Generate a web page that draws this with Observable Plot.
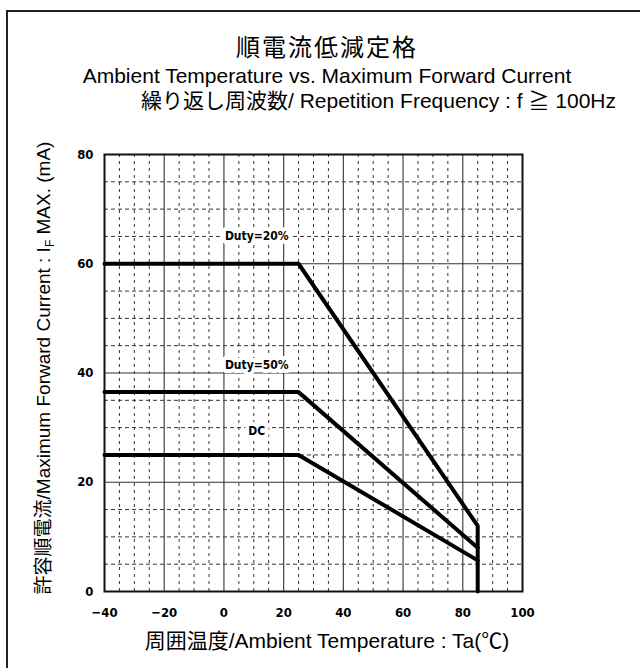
<!DOCTYPE html>
<html><head><meta charset="utf-8">
<script src="https://cdn.jsdelivr.net/npm/d3@7"></script>
<script src="https://cdn.jsdelivr.net/npm/@observablehq/plot@0.6"></script>
<style>
html,body{margin:0;padding:0;background:#fff;}
#wrap{position:relative;width:640px;height:668px;overflow:hidden;font-family:"Liberation Sans",Arial,"Noto Sans CJK JP",sans-serif;color:#000;}
.t{position:absolute;white-space:nowrap;line-height:1;}
#frame{position:absolute;left:6px;top:10px;width:700px;height:700px;border:2px solid #222;box-sizing:border-box;}
#chart{position:absolute;left:0;top:0;}
#chart svg text{font-stretch:condensed;}
</style></head><body>
<div id="wrap">
  <div id="frame"></div>
  <div id="chart"></div>
  <div class="t" id="title" style="left:327px;top:48px;transform:translate(-50%,-50%);font-size:24px;letter-spacing:2px;">順電流低減定格</div>
  <div class="t" id="sub1" style="left:327px;top:75px;transform:translate(-50%,-50%);font-size:21px;">Ambient Temperature vs. Maximum Forward Current</div>
  <div class="t" id="sub2" style="left:141px;top:100px;transform:translate(0,-50%);font-size:21px;">繰り返し周波数/ Repetition Frequency : f ≧ 100Hz</div>
  <div class="t" id="xlab" style="left:327px;top:640px;transform:translate(-50%,-50%);font-size:21px;">周囲温度/Ambient Temperature : Ta(℃)</div>
  <div class="t" id="ylab" style="left:45px;top:368px;transform:translate(-50%,-50%) rotate(-90deg);font-size:19px;">許容順電流/Maximum Forward Current : I<sub style="font-size:12px;">F</sub> MAX. (mA)</div>
</div>
<script>
// Data
const temp20 = [-40, 25, 85, 85];
const cur20  = [60, 60, 12, 0];
const temp50 = [-40, 25, 85];
const cur50  = [36.5, 36.5, 8];
const tempDC = [-40, 25, 85];
const curDC  = [25, 25, 5.7];

const seriesNames = ["Duty=20%", "Duty=50%", "DC"];
const labelTemp   = [11, 11, 11];
const labelCur    = [65, 41.4, 29.3];

const xTicks = [-40, -20, 0, 20, 40, 60, 80, 100];
const yTicks = [0, 20, 40, 60, 80];
const xMajor = [-20, 0, 20, 40, 60, 80];
const yMajor = [20, 40, 60];
const xMinor = [-35,-30,-25,-15,-10,-5,5,10,15,25,30,35,45,50,55,65,70,75,85,90,95];
const yMinor = [5,10,15,25,30,35,45,50,55,65,70,75];

const toRows = (xs, ys) => xs.map((x, i) => ({t: x, c: ys[i]}));
const labels = seriesNames.map((n, i) => ({name: n, t: labelTemp[i], c: labelCur[i]}));

const chart = Plot.plot({
  width: 640, height: 668,
  marginLeft: 104, marginRight: 118, marginTop: 154, marginBottom: 77,
  x: {domain: [-40, 100]},
  y: {domain: [0, 80]},
  style: {fontFamily: "'DejaVu Sans',sans-serif", fontStretch: "condensed", fontSize: "13px", fontWeight: "bold", background: "transparent", color: "#000"},
  marks: [
    Plot.ruleX(xMinor, {stroke: "#333", strokeWidth: 1, strokeDasharray: "3,4"}),
    Plot.ruleY(yMinor, {stroke: "#333", strokeWidth: 1, strokeDasharray: "4,3"}),
    Plot.ruleX(xMajor, {stroke: "#444", strokeWidth: 1.2}),
    Plot.ruleY(yMajor, {stroke: "#333", strokeWidth: 1.2}),
    Plot.frame({stroke: "#111", strokeWidth: 2}),
    Plot.line(toRows(temp20, cur20), {x: "t", y: "c", stroke: "#000", strokeWidth: 4, strokeLinejoin: "miter"}),
    Plot.line(toRows(temp50, cur50), {x: "t", y: "c", stroke: "#000", strokeWidth: 4, strokeLinejoin: "miter"}),
    Plot.line(toRows(tempDC, curDC), {x: "t", y: "c", stroke: "#000", strokeWidth: 4, strokeLinejoin: "miter"}),
    Plot.text(labels, {x: "t", y: "c", text: "name", fill: "#000", stroke: "#fff", strokeWidth: 8, fontSize: 12, fontWeight: "bold"}),
    Plot.axisX({ticks: xTicks, tickSize: 0, tickPadding: 16, label: null, tickFormat: d => d < 0 ? "−" + (-d) : String(d)}),
    Plot.axisY({ticks: yTicks, tickSize: 0, tickPadding: 11, label: null})
  ]
});
document.getElementById("chart").appendChild(chart);
</script>
</body></html>
